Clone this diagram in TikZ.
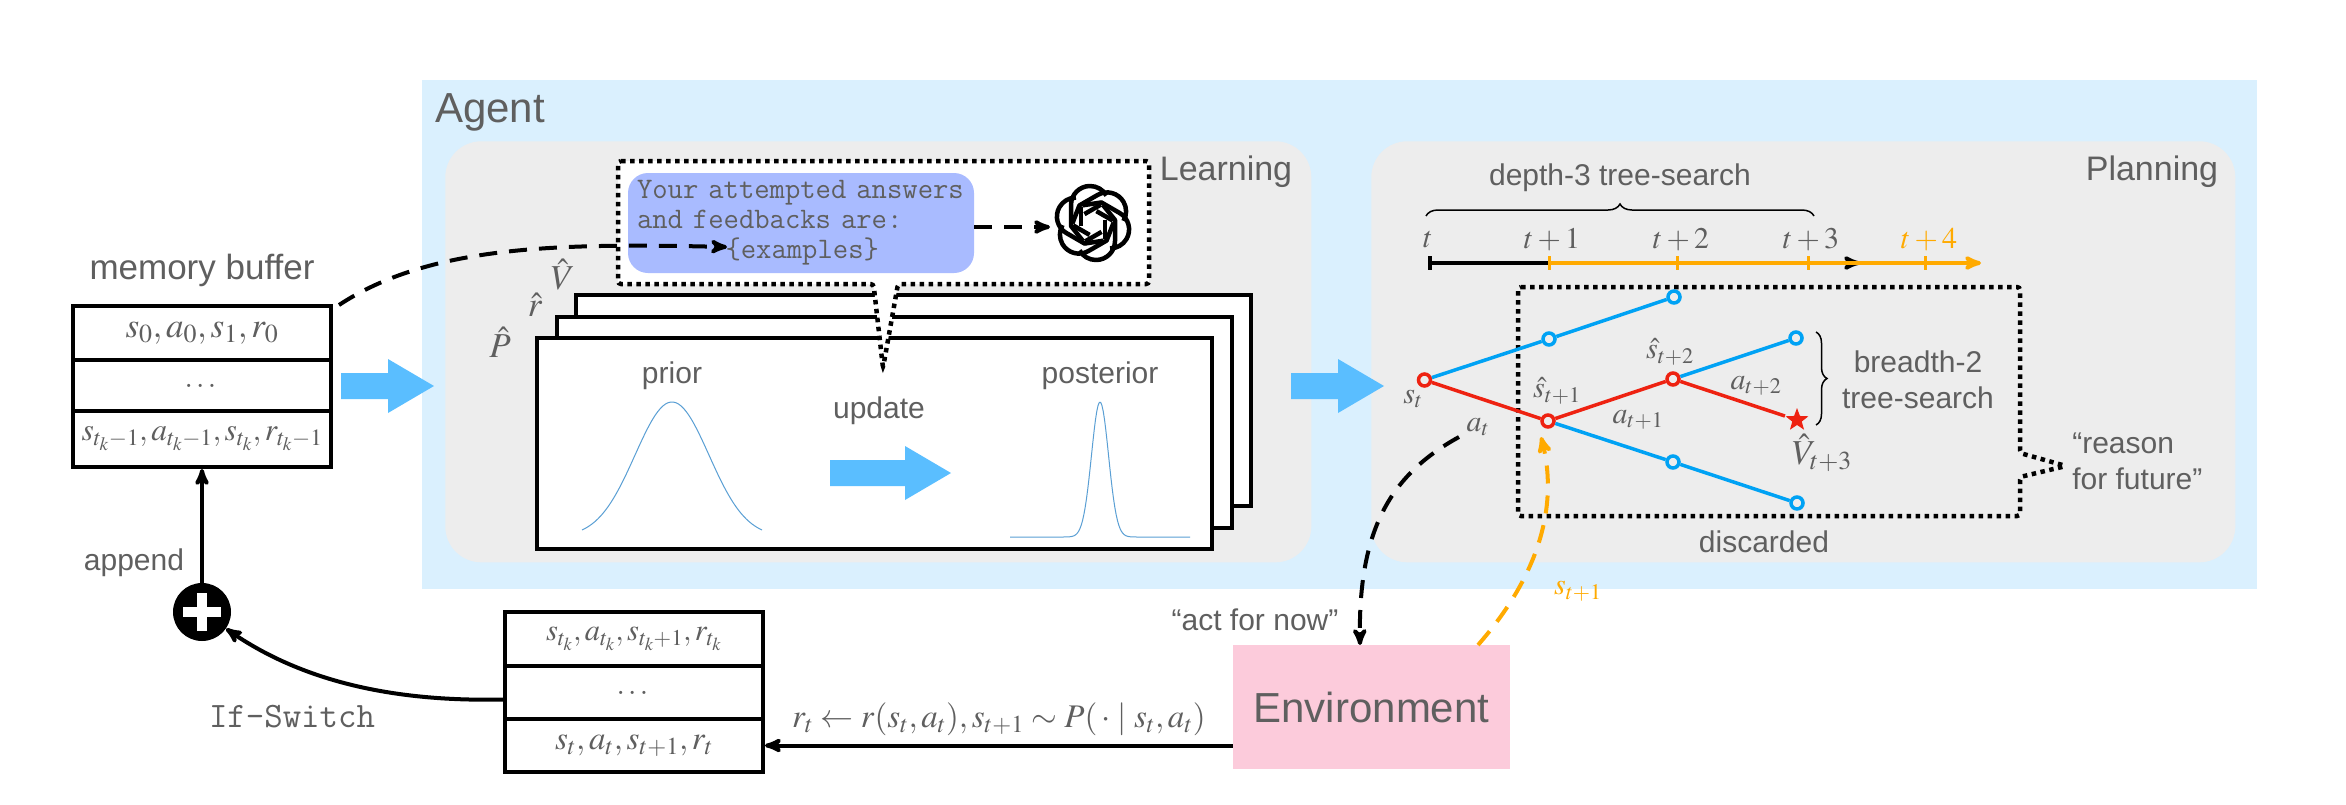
\documentclass[tikz,border=0pt]{standalone}
\usepackage{mathptmx}
\usepackage[no-math]{fontspec}
\setmainfont{Liberation Sans}
\usepackage{amsmath}
\usetikzlibrary{arrows, positioning, shapes.geometric, decorations.pathreplacing}

\definecolor{agentblue}{HTML}{DAF0FE}
\definecolor{panelgray}{HTML}{EDEDED}
\definecolor{flowblue}{HTML}{5ABEFF}
\definecolor{promptblue}{HTML}{A9BBFF}
\definecolor{envpink}{HTML}{FCCBDB}
\definecolor{inkgray}{HTML}{5F5F5F}
\definecolor{treeblue}{HTML}{00A2F4}
\definecolor{treered}{HTML}{EE2211}
\definecolor{stepgold}{HTML}{FFAA00}
\definecolor{curveblue}{HTML}{5A9FD4}

\newcommand{\fsz}[1]{\fontsize{#1}{1.2\dimexpr #1pt\relax}\selectfont}

\tikzset{
    lbl/.style={text=inkgray, inner sep=0pt, font=\fsz{30}},
    biglbl/.style={lbl, font=\fsz{42}},
    midlbl/.style={lbl, font=\fsz{34}},
    ttlbl/.style={lbl, font=\fsz{35.8}\ttfamily},
    panel/.style={fill=panelgray, rounded corners=36pt, anchor=north west, inner sep=0pt},
    bufrow/.style={lbl, draw=black, line width=4pt, fill=white, minimum width=258pt},
    sheet/.style={draw=black, line width=4pt, fill=white, minimum width=675pt, minimum height=211pt},
    solidline/.style={line width=4pt, black},
    dashline/.style={line width=4pt, dash pattern=on 18pt off 12pt},
    dotline/.style={draw=black, line width=4.5pt, dash pattern=on 4.5pt off 4.5pt},
    gausscurve/.style={curveblue, line width=1pt},
    bluedot/.style={circle, draw=treeblue, fill=panelgray, line width=3.5pt, minimum size=12pt, inner sep=0pt},
    reddot/.style={circle, draw=treered, fill=panelgray, line width=3.5pt, minimum size=12pt, inner sep=0pt},
    pics/flowarrow/.style={code={
        \fill[flowblue] (0,-13) -- (#1-46,-13) -- (#1-46,-27) -- (#1,0) -- (#1-46,27) -- (#1-46,13) -- (0,13) -- cycle;
    }}
}

\begin{document}
\begin{tikzpicture}[x=1pt, y=-1pt, >=stealth', semithick]
    \useasboundingbox (0,0) rectangle (2346,804);

    % backgrounds
    \node[fill=agentblue, anchor=north west, minimum width=1835pt, minimum height=509pt, inner sep=0pt] (agentbg) at (422,80) {};
    \node[panel, minimum width=866pt, minimum height=421pt] (learnbg) at (445,141) {};
    \node[panel, minimum width=864pt, minimum height=421pt] (planbg) at (1371,141) {};
    \node[biglbl] (agentlbl) at (490,112) {Agent};
    \node[midlbl] (learnlbl) at (1226,172) {Learning};
    \node[midlbl] (planlbl) at (2152,172) {Planning};

    % memory buffer
    \node[bufrow, minimum height=54pt, font=\fsz{35}] (mem1) at (202,333) {$s_0, a_0, s_1, r_0$};
    \node[bufrow, minimum height=51pt] (mem2) at (202,385.5) {$\dots$};
    \node[bufrow, minimum height=56pt, font=\fsz{31.5}] (mem3) at (202,439) {$s_{t_k-1}, a_{t_k-1}, s_{t_k}, r_{t_k-1}$};
    \node[midlbl, font=\fsz{35}] (memlbl) [above=17pt of mem1] {memory buffer};
    \pic at (341,386) {flowarrow=93};

    % model sheets
    \node[sheet] (vsheet) at (913.5,400.5) {};
    \node[sheet] (rsheet) at (894.5,422.5) {};
    \node[sheet] (psheet) at (874,443.5) {};
    \node[lbl, font=\fsz{35}] (plbl) at (500,342) {$\hat{P}$};
    \node[lbl, font=\fsz{35}] (rlbl) at (535,305) {$\hat{r}$};
    \node[lbl, font=\fsz{35}] (vlbl) at (563,275) {$\hat{V}$};
    \node[lbl] (priorlbl) at (672,376) {prior};
    \node[lbl] (postlbl) at (1100,376) {posterior};
    \node[lbl] (updatelbl) at (879,411) {update};
    \draw[gausscurve] plot[domain=-90:90, samples=70] ({672+\x},{537-135*exp(-(\x*\x)/2738)});
    \draw[gausscurve] plot[domain=-90:90, samples=140] ({1100+\x},{537-135*exp(-(\x*\x)/145)});
    \pic at (830,473) {flowarrow=121};

    % prompt box
    \draw[dotline, fill=white, rounded corners=3pt] (618,161) -- (1149,161) -- (1149,284) -- (898,284) -- (883,368) -- (873.5,284) -- (618,284) -- cycle;
    \node[lbl, fill=promptblue, rounded corners=20pt, minimum width=346pt, minimum height=100pt, text width=328pt, inner xsep=9pt, align=left,
        font=\fontsize{29.8}{30}\selectfont\ttfamily] (prompt) at (801,223)
        {Your attempted answers\\and feedbacks are:\\\hspace*{2.97em}\{examples\}};

    % logo
    \coordinate (logo) at (1093,223);
    \foreach \ang in {0,60,...,300} {
        \draw[line width=4.5pt, black, shift={(logo)}, rotate=\ang, line join=round]
            (-10,18) -- (-22,3) -- (-22,-18) arc[start angle=180, end angle=330, radius=19];
        \draw[line width=4.5pt, black, shift={(logo)}, rotate=\ang, line join=round]
            (-12,3) -- (-12,-16);
    }

    % tree search
    \node[lbl] (depthlbl) at (1620,178) {depth-3 tree-search};
    \draw[decorate, decoration={brace, amplitude=12pt}, line width=1.5pt, black] (1426,216) -- (1814,216);
    \coordinate (tl0) at (1430,263);
    \coordinate (tlend) at (1860,263);
    \coordinate (tl1) at (1549,263);
    \coordinate (tl4) at (1981,263);
    \draw[->, line width=4pt, black] (tl0) -- (tlend);
    \draw[->, line width=4pt, stepgold] (tl1) -- (tl4);
    \draw[line width=3.5pt, black] (1430,256) -- (1430,270);
    \foreach \px in {1549,1677,1808,1925} {
        \draw[line width=3pt, stepgold] (\px,256) -- (\px,270);
    }
    \node[lbl] (tt0) at (1428,240) {$t$};
    \node[lbl] (tt1) at (1552,240) {$t+1$};
    \node[lbl] (tt2) at (1681,240) {$t+2$};
    \node[lbl] (tt3) at (1811,240) {$t+3$};
    \node[lbl, text=stepgold] (tt4) at (1929,240) {$t+4$};

    \draw[dotline, rounded corners=3pt] (1518,287) -- (2020,287) -- (2020,453) -- (2066,466) -- (2020,477) -- (2020,516) -- (1518,516) -- cycle;
    \node[bluedot] (up1) at (1549,339) {};
    \node[bluedot] (up2) at (1674,297) {};
    \node[bluedot] (mid1) at (1796,338) {};
    \node[bluedot] (low1) at (1673,462) {};
    \node[bluedot] (low2) at (1797,503) {};
    \node[reddot] (st) at (1424.5,380) {};
    \node[reddot] (sa) at (1548,421) {};
    \node[reddot] (sb) at (1673,379) {};
    \node[star, star points=5, star point ratio=2.4, fill=treered, minimum size=24pt, inner sep=0pt] (sc) at (1797,420) {};
    \path[line width=3.5pt, treeblue]
        (st) edge (up1)
        (up1) edge (up2)
        (sb) edge (mid1)
        (sa) edge (low1)
        (low1) edge (low2);
    \path[line width=3.5pt, treered]
        (st) edge (sa)
        (sa) edge (sb)
        (sb) edge (sc);
    \node[lbl] (stlbl) at (1413,399) {$s_t$};
    \node[lbl] (atlbl) at (1478,427) {$a_t$};
    \node[lbl] (salbl) at (1557,391) {$\hat{s}_{t+1}$};
    \node[lbl] (sblbl) at (1670,352) {$\hat{s}_{t+2}$};
    \node[lbl] (a1lbl) at (1638,420) {$a_{t+1}$};
    \node[lbl] (a2lbl) at (1756,386) {$a_{t+2}$};
    \node[lbl, font=\fsz{35}] (vclbl) at (1822,453) {$\hat{V}_{t+3}$};
    \draw[decorate, decoration={brace, amplitude=11pt}, line width=1.5pt, black] (1816,332) -- (1816,425);
    \node[lbl, align=center] (breadthlbl) at (1918,380) {breadth-2\\tree-search};
    \node[lbl] (disclbl) at (1764,542) {discarded};
    \node[lbl, align=left, anchor=west] (reasonlbl) at (2072,461) {“reason\\for future”};
    \pic at (1291,386) {flowarrow=93};

    % environment and trajectory
    \node[biglbl, fill=envpink, minimum width=277pt, minimum height=124pt] (envbox) at (1371.5,707) {Environment};
    \node[bufrow, minimum height=54pt, font=\fsz{30.5}] (epi1) at (634,639) {$s_{t_k}, a_{t_k}, s_{t_k+1}, r_{t_k}$};
    \node[bufrow, minimum height=53pt] (epi2) at (634,692.5) {$\dots$};
    \node[bufrow, minimum height=53pt, font=\fsz{33}] (epi3) at (634,745.5) {$s_t, a_t, s_{t+1}, r_t$};
    \node[circle, fill=black, minimum size=58pt, inner sep=0pt] (plusnode) at (202,612) {};
    \draw[white, line width=10pt] ([xshift=-19pt]plusnode.center) -- ([xshift=19pt]plusnode.center);
    \draw[white, line width=10pt] ([yshift=-19pt]plusnode.center) -- ([yshift=19pt]plusnode.center);
    \node[lbl] (appendlbl) at (134,563) {append};
    \node[ttlbl] (switchlbl) at (292,717) {If-Switch};
    \node[lbl] (actlbl) at (1255,620) {“act for now”};
    \node[lbl, text=stepgold] (snextlbl) at (1578,591) {$s_{t+1}$};

    % connectors
    \coordinate (memout) at (339,305);
    \coordinate (promptin) at (727,247);
    \coordinate (logoin) at (1050,227);
    \coordinate (atout) at (1459,437);
    \coordinate (envin) at (1360,645);
    \coordinate (envout) at (1478,645);
    \coordinate (snext) at (1541,437);
    \draw[->, dashline] (memout) .. controls (430,245) and (560,243) .. (promptin);
    \draw[->, dashline] (prompt.east |- logoin) -- (logoin);
    \draw[->, dashline] (atout) .. controls (1390,475) and (1358,530) .. (envin);
    \draw[->, dashline, stepgold] (envout) .. controls (1535,580) and (1560,510) .. (snext);
    \path[->, solidline]
        (plusnode) edge (mem3.south)
        (envbox.west |- epi3.east) edge node[lbl, font=\fsz{33}, above=8pt] {$r_t \leftarrow r(s_t, a_t), s_{t+1} \sim P(\,\cdot \mid s_t, a_t)$} (epi3.east);
    \draw[->, solidline] ([yshift=-7pt]epi2.west) .. controls (390,702) and (300,680) .. (plusnode);
\end{tikzpicture}
\end{document}
